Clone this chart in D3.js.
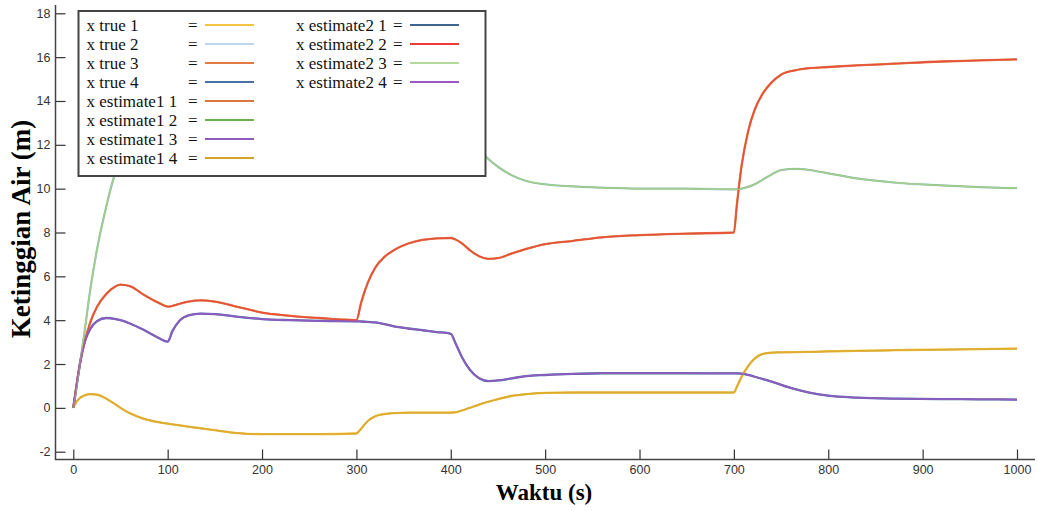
<!DOCTYPE html>
<meta charset="utf-8">
<style>* {padding:0; margin:0; border:0;} body {background:#fff;}</style>
<body>
<script src="https://d3js.org/d3.v7.min.js"></script>
<script>
// waktu (s)
var time = [0, 3, 7, 12, 18, 25, 35, 45, 50, 60, 75, 90, 100, 105, 113, 122, 135, 150, 175, 200,
  230, 260, 300, 305, 312, 320, 330, 340, 355, 370, 385, 400, 405, 412, 420, 430, 440, 450, 465, 480,
  500, 530, 560, 600, 650, 700, 703, 708, 715, 722, 730, 740, 750, 765, 780, 800, 830, 870, 920, 960, 1000];

// ketinggian tangki (m)
var levelA = [0, 0.9, 2.0, 3.0, 3.9, 4.6, 5.2, 5.55, 5.62, 5.55, 5.15, 4.8, 4.62, 4.65, 4.75, 4.85, 4.9, 4.85, 4.6, 4.35,
  4.2, 4.1, 4.0, 4.8, 5.7, 6.4, 6.9, 7.2, 7.5, 7.66, 7.73, 7.75, 7.68, 7.5, 7.2, 6.92, 6.8, 6.83, 7.05, 7.25,
  7.47, 7.62, 7.78, 7.88, 7.95, 8.0, 9.2, 11.0, 12.6, 13.6, 14.3, 14.85, 15.2, 15.4, 15.5, 15.55, 15.62, 15.7, 15.8, 15.85, 15.9];
var levelB = [0, 0.8, 2.0, 3.5, 5.4, 7.2, 9.2, 10.8, 11.4, 12.1, 12.9, 13.5, 13.8, 13.9, 14.0, 14.1, 14.2, 14.2, 14.1, 14.0,
  13.9, 13.8, 13.7, 13.7, 13.7, 13.7, 13.7, 13.65, 13.65, 13.6, 13.6, 13.6, 13.3, 12.8, 12.3, 11.8, 11.35, 11.0, 10.6, 10.35,
  10.2, 10.1, 10.05, 10.0, 10.0, 9.97, 9.97, 10.0, 10.08, 10.2, 10.4, 10.65, 10.85, 10.9, 10.85, 10.7, 10.47, 10.28, 10.15, 10.07, 10.02];
var levelC = [0, 0.9, 2.0, 3.0, 3.6, 3.95, 4.1, 4.05, 4.0, 3.85, 3.55, 3.2, 3.02, 3.5, 4.0, 4.22, 4.3, 4.28, 4.15, 4.05,
  4.0, 3.97, 3.95, 3.94, 3.92, 3.9, 3.82, 3.72, 3.62, 3.54, 3.46, 3.38, 2.95, 2.3, 1.75, 1.35, 1.22, 1.25, 1.35, 1.45,
  1.5, 1.55, 1.58, 1.58, 1.58, 1.57, 1.57, 1.56, 1.5, 1.42, 1.32, 1.2, 1.05, 0.85, 0.7, 0.56, 0.47, 0.42, 0.4, 0.39, 0.38];
var levelD = [0, 0.25, 0.45, 0.57, 0.63, 0.6, 0.42, 0.15, 0.0, -0.25, -0.5, -0.65, -0.72, -0.75, -0.8, -0.86, -0.93, -1.02, -1.15, -1.2,
  -1.2, -1.2, -1.17, -0.95, -0.6, -0.38, -0.28, -0.24, -0.22, -0.22, -0.22, -0.22, -0.2, -0.12, 0.0, 0.15, 0.28, 0.4, 0.55, 0.63,
  0.68, 0.7, 0.7, 0.7, 0.7, 0.7, 0.95, 1.4, 1.9, 2.25, 2.45, 2.52, 2.53, 2.54, 2.55, 2.58, 2.6, 2.63, 2.66, 2.68, 2.7];

var xTicks = d3.range(0, 1001, 100);
var yTicks = d3.range(-2, 19, 2);

var seriesNames = ["x true 1", "x true 2", "x true 3", "x true 4",
  "x estimate1 1", "x estimate1 2", "x estimate1 3", "x estimate1 4",
  "x estimate2 1", "x estimate2 2", "x estimate2 3", "x estimate2 4"];
var seriesColors = ["#f6c445", "#bdd7ee", "#e07b45", "#4a6fa5",
  "#d9773f", "#6ab04c", "#8e5cc0", "#d4a32a",
  "#3e6690", "#f03a3a", "#b5d99c", "#9b59c6"];
var seriesLevels = [levelD, levelB, levelA, levelC,
  levelA, levelB, levelC, levelD,
  levelD, levelA, levelB, levelC];
var drawOrder = [8, 0, 1, 2, 3, 4, 5, 6, 7, 9, 10, 11];

var W = 1037, H = 511;
var x = d3.scaleLinear().domain([0, 1000]).range([73.3, 1017]);
var y = d3.scaleLinear().domain([-2, 18]).range([451.7, 13.3]);

var svg = d3.select("body").append("svg")
  .attr("width", W).attr("height", H)
  .style("font-family", "'Liberation Sans', Arial, sans-serif");

var line = d3.line()
  .x(function(d){ return x(d[0]); })
  .y(function(d){ return y(d[1]); })
  .curve(d3.curveMonotoneX);

drawOrder.forEach(function(i){
  var pts = time.map(function(t, k){ return [t, seriesLevels[i][k]]; });
  var est2 = i >= 8;
  svg.append("path")
    .attr("d", line(pts))
    .attr("fill", "none")
    .attr("stroke", seriesColors[i])
    .attr("stroke-width", i < 4 ? 2.3 : (est2 ? 1.3 : 1.7))
    .attr("stroke-opacity", i < 4 || i == 8 ? 1 : (est2 ? 0.7 : 0.75));
});

// axes
var fmt = function(d){ return String(d); };
var xAxis = svg.append("g")
  .attr("transform", "translate(0,459.5)")
  .call(d3.axisBottom(x).tickValues(xTicks).tickSize(-10).tickPadding(6).tickFormat(fmt));
var yAxis = svg.append("g")
  .attr("transform", "translate(55.5,0)")
  .call(d3.axisLeft(y).tickValues(yTicks).tickSize(-10).tickPadding(5).tickFormat(fmt));
[xAxis, yAxis].forEach(function(a){
  a.select(".domain").remove();
  a.selectAll(".tick line").attr("stroke", "#333").attr("stroke-width", 1.2);
  a.selectAll(".tick text").attr("fill", "#333").style("font-size", "12.5px").style("font-family", "'Liberation Sans', Arial, sans-serif");
});
svg.append("line").attr("x1", 55.5).attr("x2", 55.5).attr("y1", 5).attr("y2", 460)
  .attr("stroke", "#444").attr("stroke-width", 1.5);
svg.append("line").attr("x1", 55).attr("x2", 1035).attr("y1", 459.5).attr("y2", 459.5)
  .attr("stroke", "#444").attr("stroke-width", 1.5);

// titles
svg.append("text")
  .attr("x", 544).attr("y", 500)
  .attr("text-anchor", "middle")
  .style("font-family", "'Liberation Serif', 'Times New Roman', serif")
  .style("font-weight", "bold").style("font-size", "23px")
  .text("Waktu (s)");
svg.append("text")
  .attr("transform", "translate(30,229) rotate(-90)")
  .attr("text-anchor", "middle")
  .style("font-family", "'Liberation Serif', 'Times New Roman', serif")
  .style("font-weight", "bold").style("font-size", "27px")
  .text("Ketinggian Air (m)");

// legend
var leg = svg.append("g");
leg.append("rect").attr("x", 78.5).attr("y", 11).attr("width", 407).attr("height", 165)
  .attr("fill", "#fff").attr("stroke", "#444").attr("stroke-width", 2);
seriesNames.forEach(function(name, i){
  var col = i < 8 ? 0 : 1;
  var row = col ? i - 8 : i;
  var by = 31 + row * 19;
  var tx = col ? 296 : 86.5;
  var ex = col ? 393 : 188;
  var lx = col ? 410 : 205;
  leg.append("text").attr("x", tx).attr("y", by)
    .style("font-family", "'Liberation Serif', 'Times New Roman', serif")
    .style("font-size", "17px").attr("fill", "#111")
    .text(name);
  leg.append("text").attr("x", ex).attr("y", by)
    .style("font-family", "'Liberation Serif', 'Times New Roman', serif")
    .style("font-size", "17px").attr("fill", "#111")
    .text("=");
  leg.append("line").attr("x1", lx).attr("x2", lx + 49).attr("y1", by - 6).attr("y2", by - 6)
    .attr("stroke", seriesColors[i]).attr("stroke-width", 2);
});
</script>
